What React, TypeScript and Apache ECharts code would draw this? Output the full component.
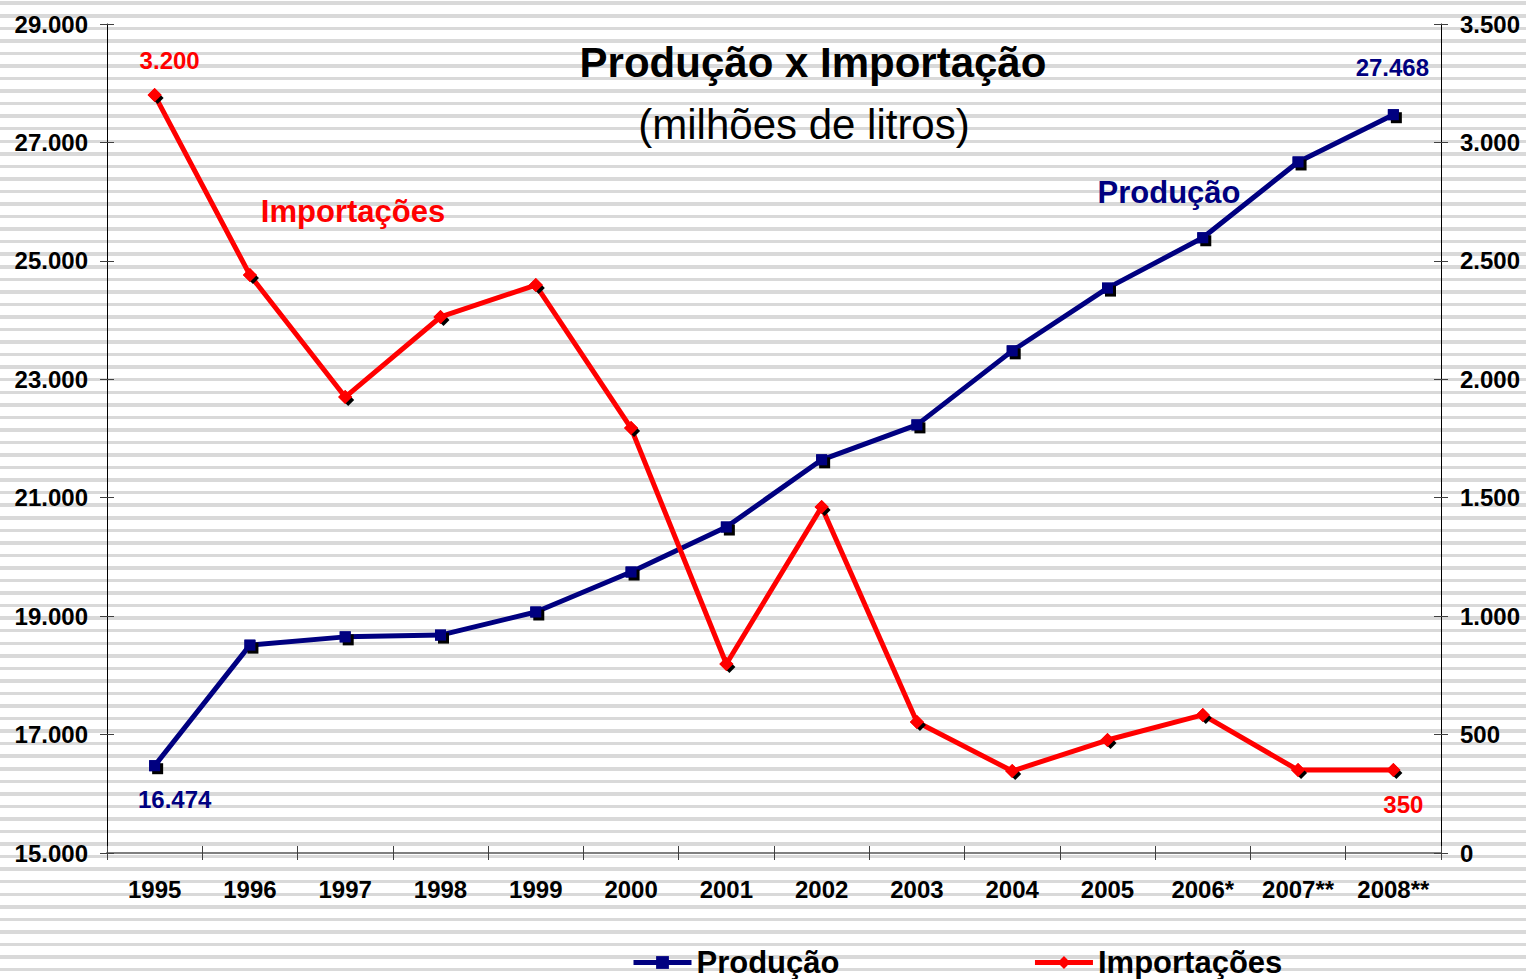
import React, { useEffect, useRef } from "react";
import * as echarts from "echarts";

const years = ["1995", "1996", "1997", "1998", "1999", "2000", "2001", "2002", "2003", "2004", "2005", "2006*", "2007**", "2008**"];
const producao = [16474, 18510, 18650, 18680, 19070, 19745, 20505, 21640, 22230, 23480, 24540, 25390, 26670, 27468];
const importacoes = [3200, 2440, 1925, 2263, 2398, 1794, 798, 1461, 553, 346, 477, 583, 350, 350];

const leftTicks = { min: 15000, max: 29000, interval: 2000 };
const rightTicks = { min: 0, max: 3500, interval: 500 };

const NAVY = "#000080";
const RED = "#ff0000";
const FONT = "Liberation Sans, Arial, sans-serif";

const fmt = (v: number) => String(Math.round(v)).replace(/\B(?=(\d{3})+(?!\d))/g, ".");

export default function App() {
  const ref = useRef<HTMLDivElement>(null);
  useEffect(() => {
    document.body.style.margin = "0";
    if (!ref.current) return;
    const chart = echarts.init(ref.current, undefined, { renderer: "svg" });
    const last = years.length - 1;

    const labelStyle = (color: string, offset: number[]) => ({
      show: true,
      position: "inside",
      offset,
      formatter: (p: any) => fmt(p.value),
      color,
      opacity: 1,
      fontFamily: FONT,
      fontWeight: "bold",
      fontSize: 24,
    });

    const prodMarkers = producao.map((v, i) => {
      if (i === 0) return { value: v, label: labelStyle(NAVY, [20, 34]) };
      if (i === last) return { value: v, label: labelStyle(NAVY, [-1, -47]) };
      return v;
    });
    const impMarkers = importacoes.map((v, i) => {
      if (i === 0) return { value: v, label: labelStyle(RED, [15, -35]) };
      if (i === last) return { value: v, label: labelStyle(RED, [10, 34]) };
      return v;
    });

    const axisLabelStyle = {
      fontFamily: FONT,
      fontWeight: "bold",
      fontSize: 24,
      color: "#000",
      formatter: (v: number) => fmt(v),
    };

    chart.setOption({
      animation: false,
      backgroundColor: "transparent",
      grid: { left: 107, right: 85, top: 24, bottom: 126 },
      graphic: [
        {
          type: "text",
          x: 813,
          y: 62,
          style: { text: "Produção x Importação", fontFamily: FONT, fontWeight: "bold", fontSize: 42, fill: "#000", textAlign: "center", textVerticalAlign: "middle" },
        },
        {
          type: "text",
          x: 804,
          y: 124,
          style: { text: "(milhões de litros)", fontFamily: FONT, fontSize: 42, fill: "#000", textAlign: "center", textVerticalAlign: "middle" },
        },
        {
          type: "text",
          x: 353,
          y: 211,
          style: { text: "Importações", fontFamily: FONT, fontWeight: "bold", fontSize: 31, fill: RED, textAlign: "center", textVerticalAlign: "middle" },
        },
        {
          type: "text",
          x: 1169,
          y: 192,
          style: { text: "Produção", fontFamily: FONT, fontWeight: "bold", fontSize: 31, fill: NAVY, textAlign: "center", textVerticalAlign: "middle" },
        },
      ],
      legend: {
        data: ["Produção", "Importações"],
        left: 626,
        top: 942,
        itemWidth: 58,
        itemHeight: 16,
        itemGap: 193,
        lineStyle: { width: 5 },
        textStyle: { fontFamily: FONT, fontWeight: "bold", fontSize: 31, color: "#000" },
      },
      xAxis: [
        {
          type: "category",
          data: years,
          position: "bottom",
          axisLine: { lineStyle: { color: "#808080", width: 2 } },
          axisTick: { show: true, length: 7, lineStyle: { color: "#404040" } },
          axisLabel: { fontFamily: FONT, fontWeight: "bold", fontSize: 24, color: "#000", margin: 24, interval: 0 },
          splitLine: { show: false },
        },
        {
          type: "category",
          data: years,
          position: "bottom",
          axisLine: { show: false },
          axisTick: { show: true, inside: true, length: 7, lineStyle: { color: "#404040" } },
          axisLabel: { show: false },
          splitLine: { show: false },
        },
      ],
      yAxis: [
        {
          type: "value",
          position: "left",
          ...leftTicks,
          axisLine: { show: true, lineStyle: { color: "#000", width: 1 } },
          axisTick: { show: true, length: 7, lineStyle: { color: "#404040" } },
          axisLabel: { ...axisLabelStyle, margin: 19 },
          splitLine: { show: false },
        },
        {
          type: "value",
          position: "right",
          ...rightTicks,
          axisLine: { show: true, lineStyle: { color: "#000", width: 1 } },
          axisTick: { show: true, length: 7, lineStyle: { color: "#404040" } },
          axisLabel: { ...axisLabelStyle, margin: 19 },
          splitLine: { show: false },
        },
        {
          type: "value",
          position: "left",
          ...leftTicks,
          axisLine: { show: false },
          axisTick: { show: true, inside: true, length: 7, lineStyle: { color: "#404040" } },
          axisLabel: { show: false },
          splitLine: { show: false },
        },
        {
          type: "value",
          position: "right",
          ...rightTicks,
          axisLine: { show: false },
          axisTick: { show: true, inside: true, length: 7, lineStyle: { color: "#404040" } },
          axisLabel: { show: false },
          splitLine: { show: false },
        },
      ],
      series: [
        {
          name: "Produção",
          type: "line",
          yAxisIndex: 0,
          data: producao,
          symbol: "rect",
          symbolSize: 11,
          itemStyle: { color: NAVY, opacity: 1 },
          lineStyle: { color: NAVY, width: 5 },
          z: 2,
        },
        {
          name: "Importações",
          type: "line",
          yAxisIndex: 1,
          data: importacoes,
          symbol: "diamond",
          symbolSize: 14,
          itemStyle: { color: RED, opacity: 1 },
          lineStyle: { color: RED, width: 5 },
          z: 2,
        },
        {
          name: "_prodShadow",
          type: "scatter",
          yAxisIndex: 0,
          data: producao,
          symbol: "rect",
          symbolSize: 11,
          symbolOffset: [3, 3],
          itemStyle: { color: "#000", opacity: 1 },
          silent: true,
          z: 3,
        },
        {
          name: "_impShadow",
          type: "scatter",
          yAxisIndex: 1,
          data: importacoes,
          symbol: "diamond",
          symbolSize: 12,
          symbolOffset: [3, 3],
          itemStyle: { color: "#000", opacity: 1 },
          silent: true,
          z: 3,
        },
        {
          name: "_prodMarks",
          type: "scatter",
          yAxisIndex: 0,
          data: prodMarkers,
          symbol: "rect",
          symbolSize: 11,
          itemStyle: { color: NAVY, opacity: 1 },
          silent: true,
          z: 4,
        },
        {
          name: "_impMarks",
          type: "scatter",
          yAxisIndex: 1,
          data: impMarkers,
          symbol: "diamond",
          symbolSize: 14,
          itemStyle: { color: RED, opacity: 1 },
          silent: true,
          z: 4,
        },
      ],
    });
    return () => chart.dispose();
  }, []);

  return (
    <div
      style={{
        width: 1526,
        height: 979,
        backgroundImage:
          "repeating-linear-gradient(180deg, #ffffff 0px, #ffffff 1.5px, #d9d9d9 1.5px, #d9d9d9 5px, #ffffff 5px, #ffffff 12.55px)",
      }}
    >
      <div ref={ref} style={{ width: 1526, height: 979 }} />
    </div>
  );
}
